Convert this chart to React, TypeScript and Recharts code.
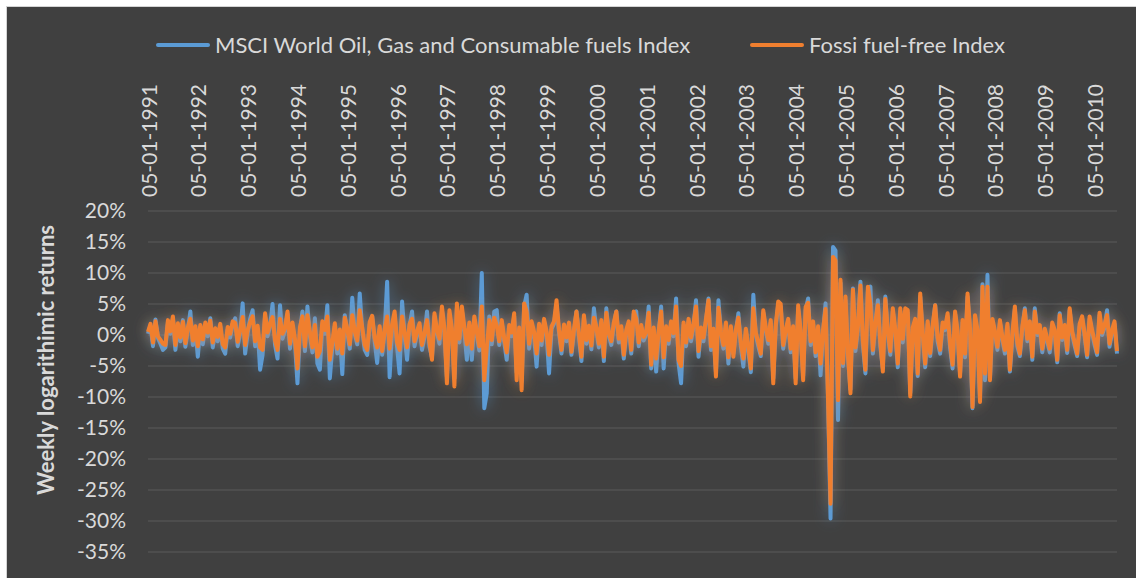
import React from "react";
import { LineChart, Line, XAxis, YAxis, CartesianGrid, Legend } from "recharts";

// x-axis labels, one per year (20 samples per year below)
const yearLabels = [
  "05-01-1991", "05-01-1992", "05-01-1993", "05-01-1994", "05-01-1995",
  "05-01-1996", "05-01-1997", "05-01-1998", "05-01-1999", "05-01-2000",
  "05-01-2001", "05-01-2002", "05-01-2003", "05-01-2004", "05-01-2005",
  "05-01-2006", "05-01-2007", "05-01-2008", "05-01-2009", "05-01-2010",
];

// MSCI World Oil, Gas and Consumable fuels Index, weekly log returns (%)
const oilReturns = [
  0.2, 1.5, -1.8, 2.5, -0.5, -1.4, -2.4, -2.0, 2.0, 0.2, 2.6, -2.4, 1.3, -1.0, 2.4, -1.9, 0.8, 3.8, -1.6, 1.0,
  -3.5, 1.2, -1.5, 1.6, -0.2, 2.7, -2.0, 0.6, -1.0, 1.4, -2.2, -3.0, 0.9, -0.4, 1.8, 2.7, -1.8, 0.3, 5.1, -3.0,
  0.3, 2.6, 4.0, -1.8, 1.0, -5.6, -3.2, 3.0, -0.2, 1.4, 5.0, -1.6, -3.8, 4.8, -0.6, 0.7, 3.4, -2.2, 1.5, -1.3,
  -7.8, 0.6, 3.8, -2.6, 4.6, -0.2, -2.8, 2.7, -4.6, -5.6, 1.8, 0.2, 4.8, -7.0, -1.9, 1.4, -3.0, 0.4, -6.3, 3.2,
  0.4, -2.2, 6.0, 0.2, -1.5, 6.7, 0.8, -2.4, -3.2, 1.7, 3.0, -1.0, -4.5, 1.0, -3.2, 0.5, 8.6, -6.8, 1.2, 3.2,
  -2.0, -6.2, 5.4, 0.0, -4.0, 1.4, 3.8, -1.8, 0.2, 1.5, -2.4, -0.3, 3.8, -1.9, -3.6, 3.0, 0.4, -1.4, 4.0, 0.5,
  -6.8, 3.4, 0.6, -7.0, 4.4, -1.2, 4.0, 0.6, -4.0, 1.6, -4.0, 2.5, 0.0, -2.5, 10.0, -11.8, -9.4, 3.0, -1.5, 3.8,
  4.0, -1.6, 2.0, -1.1, -4.0, 1.2, -0.2, 3.0, -6.0, 0.8, -7.5, 4.6, 6.5, -2.2, 1.8, -0.2, -5.1, 1.4, -1.6, 2.2,
  0.2, -6.2, 1.0, 1.8, 4.8, 0.4, -3.0, 1.3, -1.0, 1.6, -3.2, 0.5, 3.8, -0.3, -4.2, 2.8, -1.4, 1.1, -2.3, 4.3,
  0.8, -2.0, 2.0, -4.2, 4.3, -0.1, -1.6, 1.6, 3.8, -1.2, 1.0, -3.8, 0.4, 1.8, -3.0, 3.4, 3.8, -1.8, 1.2, -0.9,
  0.1, 4.6, -5.4, 0.8, -5.9, 0.2, 4.6, -5.4, 1.0, -1.4, 1.8, -0.2, 5.9, -4.6, -7.8, 1.6, -1.8, 2.2, -1.0, 1.4,
  5.6, -3.5, 0.8, -1.0, 2.2, 5.9, -2.4, 0.6, -6.0, 5.6, 0.2, -2.2, 1.6, -4.6, 1.0, -3.0, 0.4, 3.5, -1.8, -5.1,
  0.6, -2.4, -6.0, 6.5, 0.0, -1.8, -3.4, 3.6, 0.8, -1.4, 2.0, -7.0, 1.2, 4.8, 4.6, -2.2, 0.4, 2.2, -2.8, 1.0,
  -7.0, 4.2, 0.2, -6.6, 4.0, 5.9, -1.6, 1.8, -3.4, 1.0, -6.5, 0.4, 5.1, -10.0, -29.6, 14.2, 13.6, -13.7, 8.4, -5.0,
  5.6, -3.6, -8.8, 7.5, -2.6, 1.0, 8.6, -1.6, -6.2, 7.2, 7.8, -3.0, 1.6, 5.6, -1.8, -5.4, 6.2, 0.2, -3.2, 3.8,
  0.4, -5.2, 3.8, -1.2, 3.8, 3.6, -9.4, 0.8, 2.2, -6.6, 6.2, 0.0, -5.2, 1.8, -3.4, 1.2, 4.8, -1.0, -3.0, 1.6,
  0.8, 3.0, -2.0, -5.4, 3.4, 0.2, -6.2, 2.0, -3.6, 6.2, 0.6, -11.8, 2.8, 0.2, -10.2, 8.2, -7.3, 9.7, -7.0, 2.2,
  0.2, -2.4, 2.0, -0.8, -3.0, 1.4, -5.9, -0.2, 4.2, -1.8, -3.4, 1.0, 4.3, -1.0, 1.8, -4.0, 4.3, 0.0, 1.2, -2.8,
  0.6, -1.0, -2.8, 1.6, 0.4, -4.4, 3.5, -0.8, 1.2, -2.9, 4.0, 0.2, -1.7, -3.4, 1.4, 2.7, -0.2, -3.6, 2.6, 0.4,
  -1.6, -3.2, 3.2, 0.0, 1.2, 4.0, -1.9, 0.4, 1.8, -3.0,
];

// Fossil fuel-free Index, weekly log returns (%)
const fossilFreeReturns = [
  0.5, 1.8, -1.2, 2.2, -0.2, -0.8, -1.4, -1.6, 2.4, 0.6, 3.0, -1.6, 1.9, -0.4, 2.1, -1.3, 1.2, 2.6, -0.9, 1.4,
  -1.8, 1.6, -0.7, 2.0, 0.4, 2.3, -1.2, 1.1, -0.3, 1.8, -1.5, -2.0, 1.3, 0.2, 2.2, 1.9, -1.1, 0.8, 2.9, -1.6,
  0.8, 2.1, 3.0, -1.0, 1.5, -2.0, -2.4, 3.5, 0.4, 1.8, 2.9, -0.9, -2.4, 2.6, 0.2, 1.1, 3.8, -1.4, 2.0, -0.6,
  -5.4, 1.2, 3.0, -1.8, 3.2, 0.5, -2.0, 1.6, -3.5, -2.6, 2.2, 0.8, 3.0, -4.0, -1.2, 1.9, -2.2, 0.9, -3.0, 2.8,
  1.0, -1.5, 3.2, 0.6, -0.9, 4.0, 1.2, -1.6, -2.4, 2.1, 3.1, -0.5, -2.0, 1.4, -2.6, 0.9, 3.0, -2.2, 1.7, 3.8,
  -1.2, -2.4, 3.0, 0.4, -2.0, 1.8, 2.6, -1.0, 0.6, 1.9, -1.6, 0.3, 2.4, -1.2, -4.0, 3.5, 0.8, -0.6, 4.6, 1.0,
  -7.8, 4.0, 1.0, -8.3, 5.1, -0.6, 4.6, 1.2, -1.5, 2.0, -2.2, 3.0, 0.5, -1.8, 4.6, -7.3, -2.0, 2.4, -0.8, 2.8,
  1.5, -1.0, 2.4, -0.5, -2.8, 1.6, 0.4, 3.5, -7.3, 1.2, -8.9, 5.1, 3.8, -1.4, 2.2, 0.5, -3.0, 1.8, -0.9, 2.6,
  0.6, -3.2, 1.4, 2.2, 5.6, 0.8, -2.4, 1.7, -0.4, 2.0, -2.7, 0.9, 3.8, 0.2, -3.5, 3.2, -0.8, 1.5, -1.7, 2.8,
  1.2, -1.4, 2.4, -3.5, 3.6, 0.3, -1.0, 2.0, 3.8, -0.6, 1.4, -3.2, 0.8, 2.2, -2.4, 3.8, 2.6, -1.2, 1.6, -0.3,
  0.5, 3.6, -4.8, 1.2, -3.8, 0.6, 3.8, -3.6, 1.4, -0.8, 2.2, 0.3, 4.6, -4.0, -5.0, 2.0, -1.2, 2.6, -0.4, 1.8,
  4.6, -2.6, 1.2, -0.4, 2.6, 5.6, -1.8, 1.0, -6.7, 4.4, 0.6, -1.6, 2.0, -3.6, 1.4, -3.5, 0.8, 2.8, -1.2, -3.8,
  1.0, -1.8, -5.4, 4.3, 0.4, -1.2, -3.0, 4.0, 1.2, -0.8, 2.4, -7.8, 1.6, 5.4, 5.0, -1.6, 0.8, 2.6, -2.2, 1.4,
  -7.8, 4.8, 0.6, -7.3, 4.5, 5.2, -1.0, 2.2, -2.8, 1.4, -4.6, 0.8, 4.2, -10.5, -27.2, 12.6, 12.0, -10.5, 8.9, -4.5,
  6.2, -3.0, -9.4, 7.3, -2.0, 1.5, 8.0, -1.0, -5.6, 7.8, 5.0, -2.4, 2.0, 4.8, -1.2, -5.9, 5.8, 0.6, -2.6, 4.3,
  0.8, -4.6, 4.3, -0.6, 4.3, 4.0, -9.9, 1.2, 2.6, -6.2, 6.7, 0.4, -4.6, 2.2, -2.9, 1.6, 4.8, -0.4, -2.4, 2.0,
  1.2, 3.5, -1.4, -4.8, 3.8, 0.6, -6.7, 2.4, -3.0, 6.7, 1.0, -11.6, 3.2, 0.8, -10.8, 7.8, -6.2, 7.8, -7.3, 2.6,
  0.6, -1.9, 2.4, -0.4, -2.4, 1.8, -5.6, 0.2, 4.6, -1.2, -3.0, 1.4, 4.0, -0.6, 2.2, -3.5, 3.8, 0.4, 1.6, -2.2,
  1.0, -0.6, -2.2, 2.0, 0.8, -4.0, 3.2, -0.4, 1.6, -2.4, 4.3, 0.6, -1.2, -3.0, 1.8, 3.0, 0.2, -3.2, 3.0, 0.8,
  -1.0, -2.8, 3.6, 0.4, 1.6, 3.2, -1.4, 0.8, 2.2, -2.6,
];

const yTicks = [-35, -30, -25, -20, -15, -10, -5, 0, 5, 10, 15, 20];

const POINTS_PER_YEAR = 20;
const BLUE = "#5b9bd5";
const ORANGE = "#f07f2f";
const TEXT = "#d9d9d9";
const FONT = "Lato, 'Open Sans', sans-serif";

const data = oilReturns.map((oil, i) => ({ week: i, oil, free: fossilFreeReturns[i] }));
const xTicks = yearLabels.map((_, k) => k * POINTS_PER_YEAR);

const series = [
  { key: "oil", name: "MSCI World Oil, Gas and Consumable fuels Index", color: BLUE },
  { key: "free", name: "Fossi fuel-free Index", color: ORANGE },
];

function XTick({ x, payload }: any) {
  const y = 190;
  return (
    <text
      x={x}
      y={y}
      transform={`rotate(-90 ${x} ${y})`}
      textAnchor="start"
      dominantBaseline="central"
      fill={TEXT}
      fontSize={21}
      fontFamily={FONT}
    >
      {yearLabels[Math.round(payload.value / POINTS_PER_YEAR)]}
    </text>
  );
}

function LegendContent() {
  const lefts = [149, 743];
  return (
    <div style={{ position: "relative", height: 0 }}>
      {series.map((s, i) => (
        <div
          key={s.key}
          style={{ position: "absolute", left: lefts[i], top: 0, display: "flex", alignItems: "center", whiteSpace: "nowrap" }}
        >
          <span style={{ display: "inline-block", width: 54, height: 4, borderRadius: 2, background: s.color, marginRight: 5 }} />
          <span style={{ color: TEXT, fontSize: 22, fontFamily: FONT, lineHeight: "28px" }}>{s.name}</span>
        </div>
      ))}
    </div>
  );
}

function glow(id: string, strength: number) {
  return (
    <filter id={id} x="-5%" y="-20%" width="110%" height="140%">
      <feGaussianBlur in="SourceGraphic" stdDeviation="7" result="blur" />
      <feComponentTransfer in="blur" result="soft">
        <feFuncA type="linear" slope={strength} />
      </feComponentTransfer>
      <feMerge>
        <feMergeNode in="soft" />
        <feMergeNode in="SourceGraphic" />
      </feMerge>
    </filter>
  );
}

export default function App() {
  return (
    <div style={{ position: "absolute", left: 0, top: 0, width: 1136, height: 578, background: "#fff" }}>
      <div
        style={{
          position: "absolute",
          left: 6,
          top: 6,
          width: 1130,
          height: 572,
          boxSizing: "border-box",
          background: "#404040",
          borderLeft: "1px solid #d4d4d4",
          borderTop: "1px solid #d4d4d4",
        }}
      >
        <LineChart width={1129} height={571} data={data} margin={{ top: 84, right: 19, bottom: 26, left: 0 }}>
          <defs>
            {glow("glowBlue", 0.6)}
            {glow("glowOrange", 0.4)}
          </defs>
          <CartesianGrid vertical={false} stroke="#5a5a5a" strokeWidth={1} />
          <XAxis
            dataKey="week"
            type="number"
            domain={[0, data.length - 1]}
            ticks={xTicks}
            interval={0}
            orientation="top"
            height={120}
            axisLine={false}
            tickLine={false}
            tick={<XTick />}
          />
          <YAxis
            type="number"
            domain={[-35, 20]}
            ticks={yTicks}
            interval={0}
            width={141}
            axisLine={false}
            tickLine={false}
            tickMargin={16}
            tickFormatter={(v: number) => `${v}%`}
            tick={{ fill: TEXT, fontSize: 21, fontFamily: FONT }}
            label={{
              content: () => (
                <text
                  x={38}
                  y={353}
                  transform="rotate(-90 38 353)"
                  textAnchor="middle"
                  dominantBaseline="central"
                  fill={TEXT}
                  fontSize={22}
                  fontWeight="bold"
                  fontFamily={FONT}
                >
                  Weekly logarithimic returns
                </text>
              ),
            }}
          />
          <Legend
            verticalAlign="top"
            content={<LegendContent />}
            wrapperStyle={{ top: 24, left: 0, width: 1129, height: 0 }}
          />
          <Line
            dataKey="oil"
            name={series[0].name}
            stroke={BLUE}
            strokeWidth={4}
            strokeLinejoin="round"
            dot={false}
            isAnimationActive={false}
            filter="url(#glowBlue)"
          />
          <Line
            dataKey="free"
            name={series[1].name}
            stroke={ORANGE}
            strokeWidth={4}
            strokeLinejoin="round"
            dot={false}
            isAnimationActive={false}
            filter="url(#glowOrange)"
          />
        </LineChart>
      </div>
    </div>
  );
}
